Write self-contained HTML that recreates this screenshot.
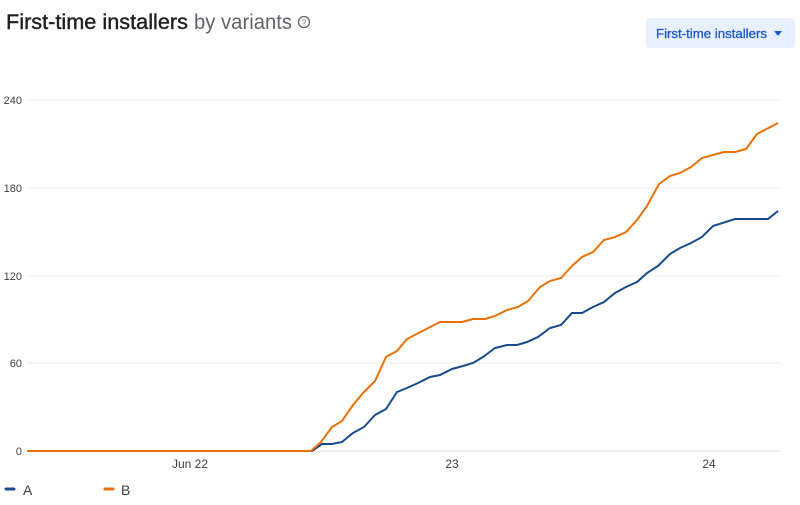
<!DOCTYPE html>
<html><head><meta charset="utf-8"><style>
body{margin:0;background:#fff;width:800px;height:500px;overflow:hidden;font-family:"Liberation Sans",sans-serif}
</style></head><body>
<svg width="800" height="500" xmlns="http://www.w3.org/2000/svg" font-family="Liberation Sans, sans-serif">
<text x="6" y="29" font-size="21" fill="#1f1f1f" stroke="#1f1f1f" stroke-width="0.4" textLength="182" lengthAdjust="spacingAndGlyphs">First-time installers</text>
<text x="194" y="29" font-size="21" fill="#5f6368" textLength="98" lengthAdjust="spacingAndGlyphs">by variants</text>
<circle cx="304" cy="22" r="5.5" fill="none" stroke="#5f6368" stroke-width="1.3"/>
<text x="304" y="25.5" font-size="8" fill="#5f6368" text-anchor="middle">?</text>
<rect x="646" y="18" width="149" height="30" rx="3" fill="#e8f0fe"/>
<text x="656" y="38" font-size="12.5" fill="#1a57c9" stroke="#1a57c9" stroke-width="0.3" textLength="111" lengthAdjust="spacingAndGlyphs">First-time installers</text>
<path d="M774 31 L782 31 L778 36 Z" fill="#1a57c9"/>
<g stroke="#ececec" stroke-width="1">
<line x1="27" y1="100" x2="780" y2="100"/>
<line x1="27" y1="188" x2="780" y2="188"/>
<line x1="27" y1="276" x2="780" y2="276"/>
<line x1="27" y1="363" x2="780" y2="363"/>
<line x1="27" y1="451" x2="780" y2="451" stroke="#dadce0"/>
</g>
<g font-size="11" fill="#3c4043" text-anchor="end">
<text x="22" y="104">240</text><text x="22" y="192">180</text><text x="22" y="280">120</text><text x="22" y="367">60</text><text x="22" y="455">0</text>
</g>
<g font-size="12" fill="#3c4043" text-anchor="middle">
<text x="190" y="468">Jun 22</text><text x="452" y="468">23</text><text x="709" y="468">24</text>
</g>
<polyline fill="none" stroke="#174a8b" stroke-width="2" points="27,451 312,451 322,444 332,444 342,442 353,433 364,427 375,415 386,409 397,392 407,388 418,383 430,377 440,375 452,369 463,366 473,363 483,357 495,348 507,345 517,345 527,342 538,337 550,328 561,325 572,313 582,313 593,307 604,302 615,293 626,287 637,282 647,273 658,266 670,254 680,248 691,243 702,237 713,226 735,219 768,219 778,211"/>
<polyline fill="none" stroke="#e8710a" stroke-width="2" points="27,451 311,451 321,442 332,427 342,421 353,405 363,393 375,381 386,357 397,351 407,339 440,322 462,322 473,319 485,319 495,316 507,310 518,307 528,301 540,287 550,281 561,278 572,266 582,257 593,252 604,240 615,237 626,232 637,220 647,206 659,184 670,176 680,173 691,167 702,158 713,155 724,152 735,152 746,149 757,134 778,123"/>
<line x1="6" y1="489" x2="14" y2="489" stroke="#174a8b" stroke-width="3" stroke-linecap="round"/>
<text x="23" y="495" font-size="14" fill="#3c4043">A</text>
<line x1="105" y1="489" x2="113" y2="489" stroke="#e8710a" stroke-width="3" stroke-linecap="round"/>
<text x="121" y="495" font-size="14" fill="#3c4043">B</text>
</svg>
</body></html>
